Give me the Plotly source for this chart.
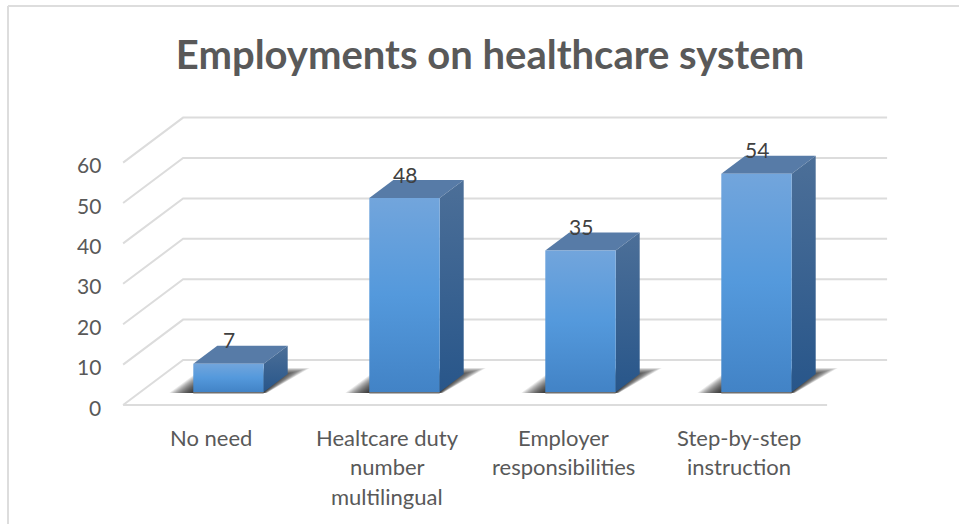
import plotly.graph_objects as go

# Chart content
title = "Employments on healthcare system"
categories = [["No need"],
              ["Healtcare duty", "number", "multilingual"],
              ["Employer", "responsibilities"],
              ["Step-by-step", "instruction"]]
values = [7, 48, 35, 54]
ticks = [0, 10, 20, 30, 40, 50, 60]

# Canvas and oblique projection settings, in screen pixels per data unit
WIDTH, HEIGHT = 959, 524
PX_PER_CAT, PX_PER_VAL = 176.0, 4.04
ORIGIN_X, ORIGIN_Y = 211.1, 405.0     # where category 0 / value 0 sit on the front plane
DEPTH_X, DEPTH_Y = 60 / PX_PER_CAT, 45 / PX_PER_VAL
BAR_HALF = 0.2
BAR_D0, BAR_D1 = 0.29, 0.69
CAT_LO, CAT_HI = -0.5, 3.5

INK = "#595959"
GRID = "#dcdcdc"
FONT = "Lato"


def project(cat, val, depth=0.0):
    return cat + depth * DEPTH_X, val + depth * DEPTH_Y


def poly(points, **style):
    xs = [p[0] for p in points] + [points[0][0]]
    ys = [p[1] for p in points] + [points[0][1]]
    return go.Scatter(x=xs, y=ys, mode="lines", fill="toself", line=dict(width=0),
                      hoverinfo="skip", showlegend=False, **style)


fig = go.Figure()

# Back wall and left wall gridlines
for t in ticks:
    x0, y0 = project(CAT_LO, t, 0)
    x1, y1 = project(CAT_LO, t, 1)
    x2, y2 = project(CAT_HI, t, 1)
    fig.add_trace(go.Scatter(x=[x0, x1, x2], y=[y0, y1, y2], mode="lines",
                             line=dict(color=GRID, width=2), hoverinfo="skip", showlegend=False))

# Front edge of the floor
x0, y0 = project(CAT_LO, 0, 0)
x1, y1 = project(CAT_HI, 0, 0)
fig.add_trace(go.Scatter(x=[x0, x1], y=[y0, y1], mode="lines",
                         line=dict(color=GRID, width=2), hoverinfo="skip", showlegend=False))

# Bars: soft floor shadow, then top, side and front faces
ux, uy = 1 / PX_PER_CAT, 1 / PX_PER_VAL
for i, v in enumerate(values):
    xl, xr = i - BAR_HALF, i + BAR_HALF
    fl, base = project(xl, 0, BAR_D0)
    fr, _ = project(xr, 0, BAR_D0)
    bl, _ = project(xl, 0, BAR_D1)
    br, _ = project(xr, 0, BAR_D1)
    _, top = project(xl, v, BAR_D0)
    _, top_back = project(xl, v, BAR_D1)
    _, base_back = project(xl, 0, BAR_D1)

    # Stacked translucent layers give the shadow its falloff
    for s in range(16):
        inset = s * 1.2
        fig.add_trace(poly([
            (fl - (24 - inset * 1.3) * ux, base - 1 * uy),
            (fr + (3 - inset * 0.2) * ux, base - 1 * uy),
            (fr + (46 - inset * 1.7) * ux, base + (24 - inset * 0.45) * uy),
            (fl + (10 + inset * 0.6) * ux, base + (24 - inset * 0.45) * uy),
        ], fillcolor="rgba(0,0,0,0.085)"))

    fig.add_trace(go.Scatter(x=[fl, fr], y=[base - 0.6 * uy, base - 0.6 * uy], mode="lines",
                             line=dict(color="#6f6f6f", width=2), hoverinfo="skip", showlegend=False))

    fig.add_trace(poly([(fl, top), (fr, top), (br, top_back), (bl, top_back)],
                       fillcolor="#577ba7"))
    fig.add_trace(poly([(fr, base), (br, base_back), (br, top_back), (fr, top)],
                       fillgradient=dict(type="vertical",
                                         colorscale=[[0, "#28568a"], [1, "#4c6f98"]])))
    fig.add_trace(poly([(fl, base), (fr, base), (fr, top), (fl, top)],
                       fillgradient=dict(type="vertical",
                                         colorscale=[[0, "#4283c6"], [0.5, "#5499dc"], [1, "#72a5dc"]])))

annotations = []

# Value labels above each bar
for i, v in enumerate(values):
    label_x, top = project(i, v, BAR_D0)
    annotations.append(dict(x=label_x, y=top, text=str(v), yshift=24, showarrow=False,
                            xanchor="center", yanchor="middle",
                            font=dict(family=FONT, size=21, color="#404040")))

# Value axis labels
for t in ticks:
    annotations.append(dict(x=CAT_LO, y=t, text=str(t), xshift=-20, yshift=-2, showarrow=False,
                            xanchor="right", yanchor="middle",
                            font=dict(family=FONT, size=21, color=INK)))

# Category labels, one annotation per line
for i, lines in enumerate(categories):
    for n, line in enumerate(lines):
        annotations.append(dict(x=i, y=0, text=line, yshift=-32 - n * 29.5, showarrow=False,
                                xanchor="center", yanchor="middle",
                                font=dict(family=FONT, size=22, color=INK)))

fig.update_layout(
    width=WIDTH, height=HEIGHT,
    margin=dict(l=0, r=0, t=0, b=0),
    paper_bgcolor="white", plot_bgcolor="white",
    showlegend=False,
    title=dict(text=f"<b>{title}</b>", x=490 / WIDTH, y=1 - 55 / HEIGHT,
               xanchor="center", yanchor="middle",
               font=dict(family=FONT, size=40, color=INK)),
    xaxis=dict(visible=False, range=[-ORIGIN_X / PX_PER_CAT, (WIDTH - ORIGIN_X) / PX_PER_CAT]),
    yaxis=dict(visible=False, range=[(ORIGIN_Y - HEIGHT) / PX_PER_VAL, ORIGIN_Y / PX_PER_VAL]),
    annotations=annotations,
    # Chart frame: top and left edges only are in view
    shapes=[
        dict(type="line", xref="paper", yref="paper", x0=8 / WIDTH, x1=1,
             y0=1 - 6 / HEIGHT, y1=1 - 6 / HEIGHT, line=dict(color="#dddddd", width=2)),
        dict(type="line", xref="paper", yref="paper", x0=8 / WIDTH, x1=8 / WIDTH,
             y0=0, y1=1 - 6 / HEIGHT, line=dict(color="#dddddd", width=2)),
    ],
)

fig.write_html("out.html")
